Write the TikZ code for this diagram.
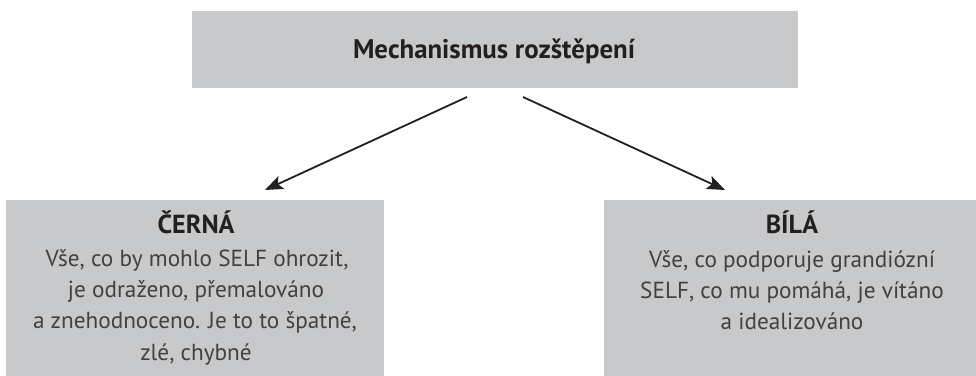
\documentclass[tikz,border=0pt]{standalone}
\usepackage{fontspec}
\setmainfont{PT Sans}
\usetikzlibrary{arrows.meta}
\definecolor{boxgray}{RGB}{200,201,203}
\definecolor{ink}{RGB}{35,31,32}
\definecolor{bodyink}{RGB}{66,64,65}
\newlength\wbody
\newlength\whead
\newlength\wsub
\begin{document}
\settowidth\wbody{\fontsize{10}{12}\selectfont Vše, co by mohlo SELF ohrozit,}%
\settowidth\whead{\fontsize{10}{12}\selectfont\bfseries Mechanismus rozštěpení}%
\settowidth\wsub{\fontsize{10}{12}\selectfont\bfseries ČERNÁ}%
\pgfmathsetmacro\bodysize{10*303/\wbody}%
\pgfmathsetmacro\headsize{10*282/\whead}%
\pgfmathsetmacro\subsize{10*77/\wsub}%
\begin{tikzpicture}[x=1pt,y=-1pt,
  box/.style={rectangle, fill=boxgray, draw=none, inner sep=0pt},
  headtext/.style={inner sep=0pt, anchor=base, text=ink, font=\fontsize{\headsize}{\headsize}\selectfont\bfseries},
  subtext/.style={inner sep=0pt, anchor=base, text=ink, font=\fontsize{\subsize}{\subsize}\selectfont\bfseries},
  bodytext/.style={inner sep=0pt, anchor=base, text=bodyink, font=\fontsize{\bodysize}{\bodysize}\selectfont},
  arr/.style={draw=ink, line width=1.8pt, -{Stealth[length=18pt,width=14pt,inset=4pt]}}]
\useasboundingbox (0,0) rectangle (976,375);
% boxes
\node[box, minimum width=606pt, minimum height=77pt] (top) at (495,49.5) {};
\node[box, minimum width=378pt, minimum height=176pt] (left) at (195,288) {};
\node[box, minimum width=372pt, minimum height=176pt] (right) at (790,288) {};
% texts
\node[headtext] (toptext) at (494,58) {Mechanismus rozštěpení};
\node[subtext] (lhead) at (196,233) {ČERNÁ};
\node[bodytext] (l1) at (197,266) {Vše, co by mohlo SELF ohrozit,};
\node[bodytext] (l2) at (196,297) {je odraženo, přemalováno};
\node[bodytext] (l3) at (195,328) {a znehodnoceno. Je to to špatné,};
\node[bodytext] (l4) at (196,360) {zlé, chybné};
\node[subtext] (rhead) at (792,233) {BÍLÁ};
\node[bodytext] (r1) at (792,267) {Vše, co podporuje grandiózní};
\node[bodytext] (r2) at (792,298) {SELF, co mu pomáhá, je vítáno};
\node[bodytext] (r3) at (792,329) {a idealizováno};
% connectors
\coordinate (s1) at (467,97);
\coordinate (e1) at (265,190);
\coordinate (s2) at (523,97);
\coordinate (e2) at (725,190);
\draw[arr] (s1) -- (e1);
\draw[arr] (s2) -- (e2);
\end{tikzpicture}
\end{document}
